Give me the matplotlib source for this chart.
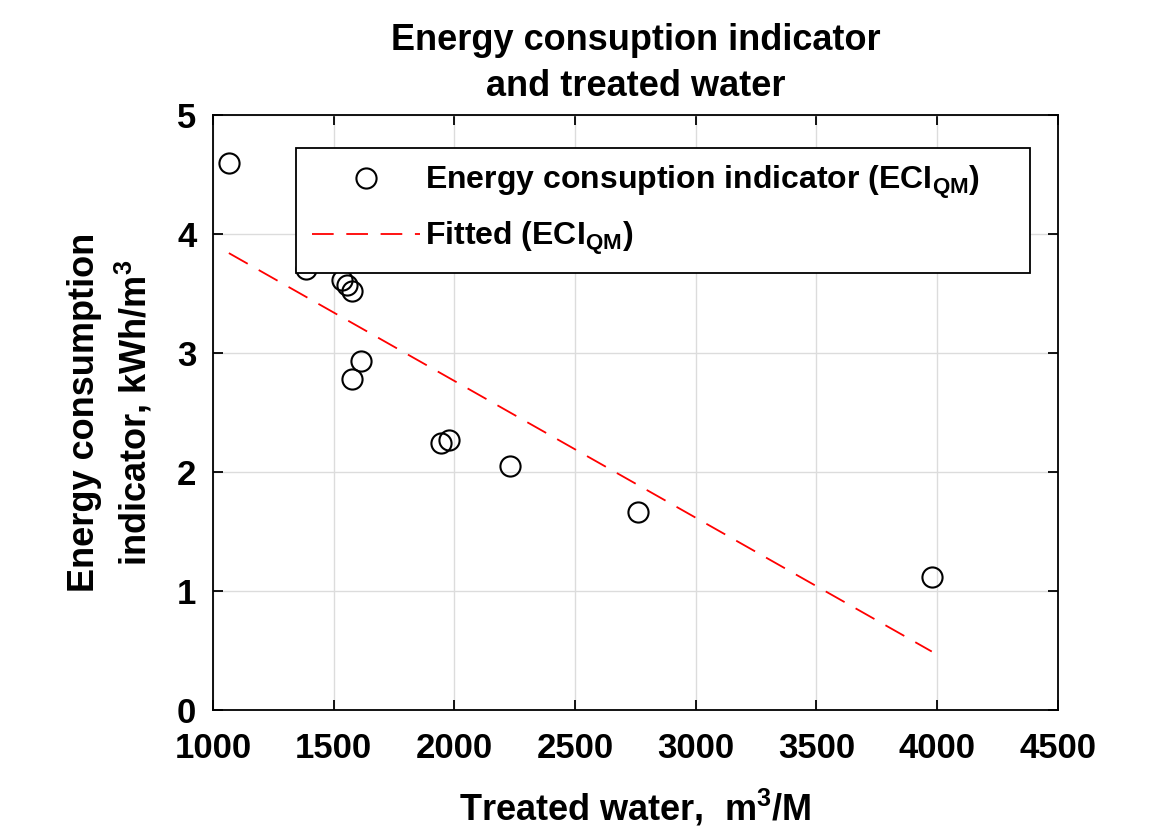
import matplotlib
matplotlib.use('Agg')
import matplotlib.pyplot as plt
import numpy as np

# treated water (m3/M) and energy consumption indicator (kWh/m3)
treated_water = [1066, 1385, 1534, 1555, 1576, 1613, 1576, 1944, 1978, 2230, 2761, 3978]
eci_qm = [4.60, 3.71, 3.61, 3.57, 3.52, 2.93, 2.78, 2.24, 2.27, 2.05, 1.66, 1.12]

# fitted line coefficients (ECI = slope * water + intercept)
fit_slope = -0.00115
fit_intercept = 5.066

x_ticks = [1000, 1500, 2000, 2500, 3000, 3500, 4000, 4500]
y_ticks = [0, 1, 2, 3, 4, 5]

plt.rcParams['font.family'] = ['Liberation Sans', 'DejaVu Sans']
plt.rcParams['font.weight'] = 'bold'
plt.rcParams['mathtext.fontset'] = 'custom'
plt.rcParams['mathtext.rm'] = 'Liberation Sans:bold'
plt.rcParams['mathtext.bf'] = 'Liberation Sans:bold'
plt.rcParams['mathtext.it'] = 'Liberation Sans:bold'
plt.rcParams['mathtext.default'] = 'bf'


def main():
    fig = plt.figure(figsize=(11.51, 8.34), dpi=100)
    ax = fig.add_axes([0.185, 0.1487, 0.734, 0.7133])

    ax.plot(treated_water, eci_qm, 'o', markerfacecolor='none', markeredgecolor='black',
            markersize=14.5, markeredgewidth=1.5,
            label='Energy consuption indicator (ECI$_{QM}$)')

    xf = np.array([min(treated_water), max(treated_water)])
    ax.plot(xf, fit_slope * xf + fit_intercept, color='red', linewidth=1.3,
            dashes=(12, 7), label='Fitted (ECI$_{QM}$)')

    ax.set_xlim(1000, 4500)
    ax.set_ylim(0, 5)
    ax.set_xticks(x_ticks)
    ax.set_yticks(y_ticks)
    ax.grid(True, color='#dcdcdc', linewidth=1)
    ax.set_axisbelow(True)
    ax.tick_params(direction='in', top=True, right=True, labelsize=25, width=1.3, length=7)
    ax.tick_params(axis='x', pad=16)
    ax.tick_params(axis='y', pad=12)
    for s in ax.spines.values():
        s.set_linewidth(1.3)

    ax.set_xlabel('Treated water,  m$^3$/M', fontsize=26, fontweight='bold', labelpad=16)
    ax.set_ylabel('Energy consumption\nindicator, kWh/m$^3$', fontsize=26, fontweight='bold',
                  labelpad=16, linespacing=1.35)
    ax.set_title('Energy consuption indicator\nand treated water', fontsize=26,
                 fontweight='bold', pad=14, linespacing=1.4)

    leg = ax.legend(loc='lower left', bbox_to_anchor=(0.098, 0.734, 0.869, 0.219),
                    mode='expand', fontsize=23, frameon=True, fancybox=False,
                    handlelength=3.4, handletextpad=0.15, borderaxespad=0,
                    borderpad=0.5, labelspacing=0.6)
    leg.get_frame().set_edgecolor('black')
    leg.get_frame().set_linewidth(1.3)
    leg.get_frame().set_alpha(1)

    fig.savefig('out.png', dpi=100)


main()
